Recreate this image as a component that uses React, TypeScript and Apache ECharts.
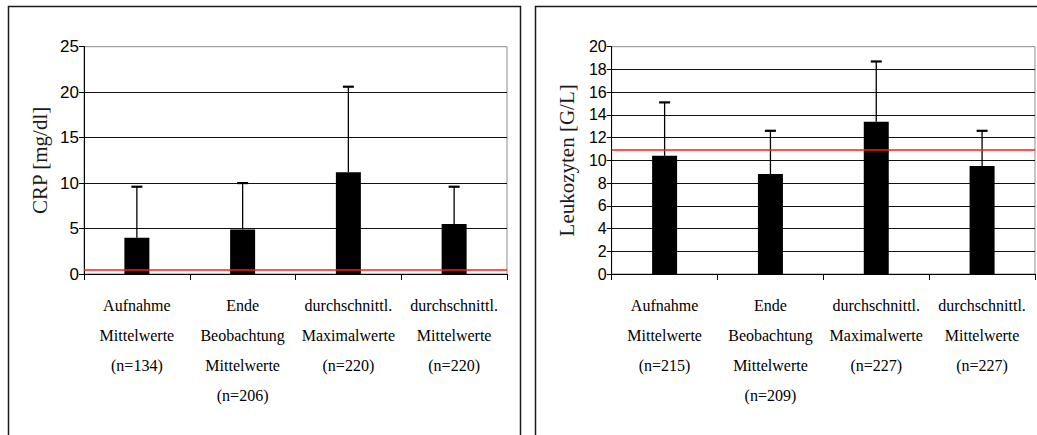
import React, { useEffect, useRef } from "react";
import * as echarts from "echarts";

// Left panel: CRP
const crpCategories = [
  "Aufnahme\nMittelwerte\n(n=134)",
  "Ende\nBeobachtung\nMittelwerte\n(n=206)",
  "durchschnittl.\nMaximalwerte\n(n=220)",
  "durchschnittl.\nMittelwerte\n(n=220)",
];
const crpMeans = [4.0, 4.9, 11.2, 5.5];
const crpUpper = [9.6, 10.0, 20.6, 9.6];
const crpReference = 0.5;
const crpAxisMax = 25;
const crpAxisStep = 5;

// Right panel: Leukozyten
const leukoCategories = [
  "Aufnahme\nMittelwerte\n(n=215)",
  "Ende\nBeobachtung\nMittelwerte\n(n=209)",
  "durchschnittl.\nMaximalwerte\n(n=227)",
  "durchschnittl.\nMittelwerte\n(n=227)",
];
const leukoMeans = [10.4, 8.8, 13.4, 9.5];
const leukoUpper = [15.1, 12.6, 18.7, 12.6];
const leukoReference = 10.9;
const leukoAxisMax = 20;
const leukoAxisStep = 2;

const SERIF = "Liberation Serif";
const SANS = "Liberation Sans";
const CAPTION_LINE = 30;
const CAPTION_FONT = "16px 'Liberation Serif', 'Times New Roman', serif";

const frames = [
  {
    type: "rect",
    z: -10,
    shape: { x: 8.5, y: 6.5, width: 512, height: 440 },
    style: { fill: "none", stroke: "#1a1a1a", lineWidth: 1.5 },
  },
  {
    type: "rect",
    z: -10,
    shape: { x: 535.5, y: 6.5, width: 510, height: 440 },
    style: { fill: "none", stroke: "#1a1a1a", lineWidth: 1.5 },
  },
];

function errorRenderer(params: any, api: any) {
  const x = api.value(0);
  const lo = api.coord([x, api.value(1)]);
  const hi = api.coord([x, api.value(2)]);
  return {
    type: "group",
    children: [
      {
        type: "line",
        shape: { x1: lo[0], y1: lo[1], x2: hi[0], y2: hi[1] },
        style: { stroke: "#000", lineWidth: 1.3 },
      },
      {
        type: "line",
        shape: { x1: hi[0] - 5.5, y1: hi[1], x2: hi[0] + 5.5, y2: hi[1] },
        style: { stroke: "#000", lineWidth: 2.2 },
      },
    ],
  };
}

function xAxisFor(gridIndex: number, cats: string[]) {
  return {
    type: "category",
    gridIndex,
    data: cats,
    boundaryGap: true,
    axisLine: { show: true, lineStyle: { color: "#000", width: 1 } },
    axisTick: { show: true, length: 6, lineStyle: { color: "#000" } },
    // category captions are placed as serif text below the axis (see below)
    axisLabel: { show: false },
    splitLine: { show: false },
  };
}

function yAxisFor(
  gridIndex: number,
  name: string,
  max: number,
  step: number,
  labelSize: number
) {
  return {
    type: "value",
    gridIndex,
    min: 0,
    max,
    interval: step,
    name,
    nameLocation: "middle",
    nameRotate: 90,
    nameGap: 34,
    nameTextStyle: { fontFamily: SERIF, fontSize: 21, color: "#1a1a1a" },
    axisLine: { show: true, lineStyle: { color: "#000", width: 1 } },
    axisTick: { show: true, length: 5, lineStyle: { color: "#000" } },
    axisLabel: {
      color: "#000",
      fontFamily: SANS,
      fontSize: labelSize,
      margin: 5,
    },
    splitLine: {
      show: true,
      showMaxLine: false,
      lineStyle: { color: "#111", width: 1 },
    },
  };
}

function barSeries(axisIndex: number, means: number[], ref: number) {
  return {
    type: "bar",
    xAxisIndex: axisIndex,
    yAxisIndex: axisIndex,
    data: means,
    barWidth: 25,
    itemStyle: { color: "#000" },
    z: 2,
    markLine: {
      silent: true,
      symbol: "none",
      label: { show: false },
      lineStyle: { color: "#ff1a1a", width: 1.6, type: "solid" },
      data: [{ yAxis: ref }],
      z: 4,
    },
  };
}

function errorSeries(axisIndex: number, means: number[], upper: number[]) {
  return {
    type: "custom",
    xAxisIndex: axisIndex,
    yAxisIndex: axisIndex,
    renderItem: errorRenderer,
    data: means.map((m, i) => [i, m, upper[i]]),
    encode: { x: 0, y: [1, 2] },
    z: 3,
  };
}

// Serif category captions, one text per line, positioned through each
// axis' own coordinate conversion
function categoryCaptions(chart: any, axisIndex: number, cats: string[]) {
  const out: any[] = [];
  cats.forEach((caption, i) => {
    const p = chart.convertToPixel(
      { xAxisIndex: axisIndex, yAxisIndex: axisIndex },
      [i, 0]
    );
    caption.split("\n").forEach((line, k) => {
      out.push({
        type: "text",
        x: p[0],
        y: p[1] + 31 + k * CAPTION_LINE,
        silent: true,
        style: {
          text: line,
          font: CAPTION_FONT,
          fill: "#000",
          align: "center",
          verticalAlign: "middle",
        },
      });
    });
  });
  return out;
}

export default function App() {
  const ref = useRef<HTMLDivElement>(null);

  useEffect(() => {
    if (!ref.current) return;
    const chart = echarts.init(ref.current, null, { renderer: "svg" });
    chart.setOption({
      animation: false,
      backgroundColor: "#fff",
      graphic: frames,
      grid: [
        {
          left: 84,
          top: 46.7,
          width: 423,
          height: 227.3,
          show: true,
          borderColor: "#8c8c8c",
          borderWidth: 1,
          backgroundColor: "transparent",
        },
        {
          left: 611.7,
          top: 46.7,
          width: 423.3,
          height: 227.3,
          show: true,
          borderColor: "#8c8c8c",
          borderWidth: 1,
          backgroundColor: "transparent",
        },
      ],
      xAxis: [xAxisFor(0, crpCategories), xAxisFor(1, leukoCategories)],
      yAxis: [
        yAxisFor(0, "CRP [mg/dl]", crpAxisMax, crpAxisStep, 17),
        yAxisFor(1, "Leukozyten [G/L]", leukoAxisMax, leukoAxisStep, 16),
      ],
      series: [
        barSeries(0, crpMeans, crpReference),
        errorSeries(0, crpMeans, crpUpper),
        barSeries(1, leukoMeans, leukoReference),
        errorSeries(1, leukoMeans, leukoUpper),
      ],
    });
    chart.setOption({
      graphic: [
        ...frames,
        ...categoryCaptions(chart, 0, crpCategories),
        ...categoryCaptions(chart, 1, leukoCategories),
      ],
    });
    return () => chart.dispose();
  }, []);

  return (
    <div
      ref={ref}
      style={{ position: "absolute", left: 0, top: 0, width: 1037, height: 435 }}
    />
  );
}
